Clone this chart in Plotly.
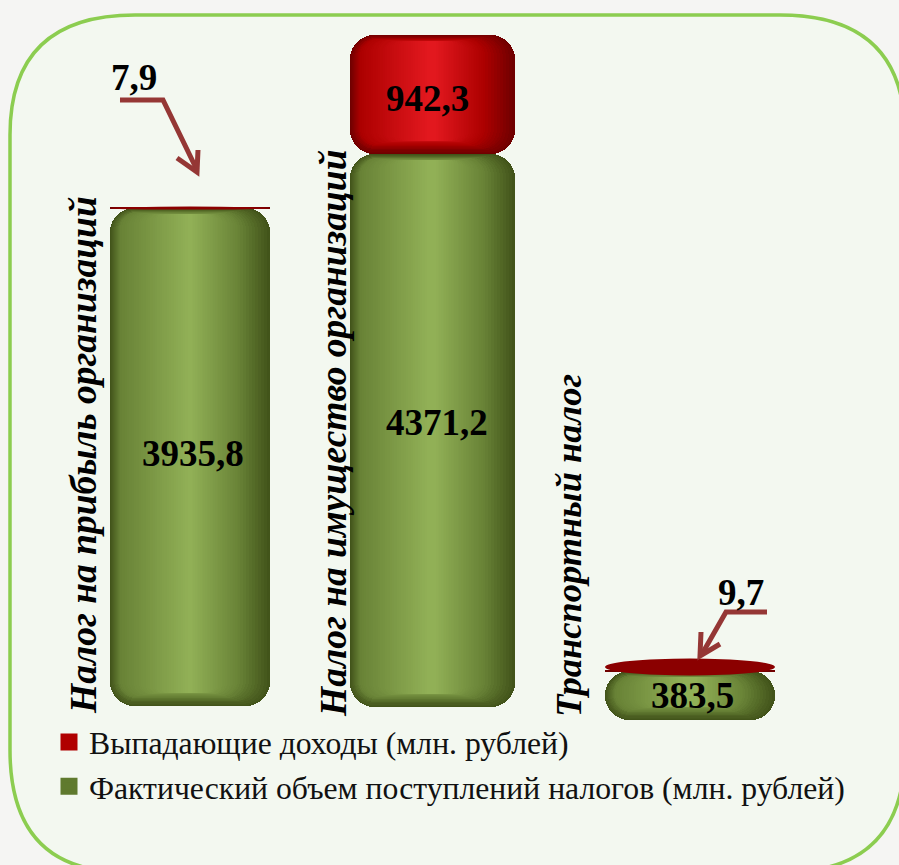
import plotly.graph_objects as go

categories = ["Налог на прибыль организаций", "Налог на имущество организаций", "Транспортный налог"]
actual_values = [3935.8, 4371.2, 383.5]
lost_values = [7.9, 942.3, 9.7]
actual_name = "Фактический объем поступлений налогов (млн. рублей)"
lost_name = "Выпадающие доходы (млн. рублей)"

W, H = 899, 865
SCALE = 0.1265         # pixels per value unit
ZERO_PX = 706
centres = [190, 432, 690]
widths = [160, 165, 170]
base_px = [0, -1, -14]
cap_down = [1.5, 0, 4]
cap_up = [1.5, 0, 13]
LAYERS = 40
FONT = "Liberation Serif"


def px_x(p):
    return p / W


def px_y(p):
    return 1 - p / H


def path(points):
    out = []
    for i, (x, y) in enumerate(points):
        out.append(("M" if i == 0 else "L") + f"{px_x(x):.5f},{px_y(y):.5f}")
    return " ".join(out)


def mix(a, b, t):
    return "rgb(" + ",".join(str(round(a[k] + (b[k] - a[k]) * t)) for k in range(3)) + ")"


GREEN = [(66, 84, 26), (104, 130, 54), (145, 176, 86)]
RED = [(112, 0, 0), (172, 0, 0), (226, 24, 30)]


def shade(stops, t):
    if t < 0.25:
        return mix(stops[0], stops[1], t / 0.25)
    return mix(stops[1], stops[2], (t - 0.25) / 0.75)


def insets(i):
    # lit from the left: a narrow dark rim on the left, a wider one on the right
    if i <= 10:
        return i * 1.0, i * 3.0
    return 10 + (i - 10) * 2.33, 30 + (i - 10) * 1.67


base0 = [p / SCALE for p in base_px]
fig = go.Figure()


def add_series(values, bases, stops, name, legendrank, legend_colour):
    for i in range(LAYERS):
        t = i / (LAYERS - 1)
        left, right = insets(i)
        bottom = 13 * (1 - (1 - t) ** 4)
        top = 6 * (1 - (1 - t) ** 4)
        heights = [max(v * SCALE - bottom - top, 0) / SCALE for v in values]
        heights = [h if h > 0 or i == 0 else None for h in heights]
        b = [bb + bottom / SCALE for bb in bases]
        w = [max(wd - left - right, 1) for wd in widths]
        x = [c + (left - right) / 2 for c in centres]
        fig.add_trace(go.Bar(
            x=x, y=heights, base=b, width=w, name=name,
            marker=dict(color=shade(stops, t), cornerradius=max(24 - i * 0.7, 0), line=dict(width=0)),
            showlegend=False, legendgroup=name, hoverinfo="skip"))
    # legend swatch only: carries no drawn values
    fig.add_trace(go.Bar(
        x=centres, y=[None] * len(centres), name=name,
        marker=dict(color=legend_colour, cornerradius=0, line=dict(width=5, color=legend_colour)),
        showlegend=True, legendgroup=name, legendrank=legendrank, hoverinfo="skip"))


add_series(actual_values, base0, GREEN, actual_name, 2, "#5f7a2e")
lost_base = [a + b for a, b in zip(actual_values, base0)]
add_series(lost_values, lost_base, RED, lost_name, 1, "#b00000")

panel = ("M10,135 Q10,15 135,15 L780,15 Q905,15 905,135 L905,750 Q905,872 785,872 "
         "L125,872 Q10,872 10,750 Z")


def convert_panel():
    res = []
    for tok in panel.split():
        if tok == "Z":
            res.append(tok)
            continue
        cmd = tok[0] if tok[0].isalpha() else ""
        x, y = tok.lstrip("MLQ").split(",")
        res.append(f"{cmd}{px_x(float(x)):.5f},{px_y(float(y)):.5f}")
    return " ".join(res)


shapes = [dict(type="path", xref="paper", yref="paper", path=convert_panel(), layer="below",
               fillcolor="#f3f8f0", line=dict(color="#8ccd50", width=3.5))]

# flat elliptical caps for the very thin upper segments
for c, w, a, b, d, u in zip(centres, widths, actual_values, base0, cap_down, cap_up):
    if d or u:
        top_v = a + b
        shapes.append(dict(type="circle", xref="x", yref="y", x0=c - w / 2, x1=c + w / 2,
                           y0=top_v - d / SCALE, y1=top_v + u / SCALE,
                           fillcolor="#8b0000", line=dict(width=0)))

ARROW = dict(color="#953735", width=5)
for pts in ([(120, 100), (163, 100), (197, 170)], [(177, 158), (197, 172), (198, 150)],
            [(767, 612), (726, 612), (702, 654)], [(701, 632), (700, 656), (720, 644)]):
    shapes.append(dict(type="path", xref="paper", yref="paper", path=path(pts), line=ARROW))

annotations = []


def note(text, x, y, size, angle=0, bold=True, italic=False):
    t = f"<b>{text}</b>" if bold else text
    t = f"<i>{t}</i>" if italic else t
    annotations.append(dict(text=t, x=px_x(x), y=px_y(y), xref="paper", yref="paper",
                            showarrow=False, textangle=angle, xanchor="center", yanchor="middle",
                            font=dict(family=FONT, size=size, color="black")))


def fmt(v):
    return f"{v:.1f}".replace(".", ",")


note(fmt(actual_values[0]), 193, 454, 37)
note(fmt(actual_values[1]), 437, 423, 37)
note(fmt(lost_values[1]), 427, 98, 37)
note(fmt(actual_values[2]), 692, 695, 37)
note(fmt(lost_values[0]), 134, 78, 37)
note(fmt(lost_values[2]), 741, 592, 37)
note(categories[0], 83, 455, 37.5, -90, True, True)
note(categories[1], 333, 433, 37.5, -90, True, True)
note(categories[2], 568, 546, 36.5, -90, True, True)

fig.update_layout(
    width=W, height=H, margin=dict(l=0, r=0, t=0, b=0), autosize=False,
    barmode="overlay", bargap=0,
    paper_bgcolor="#f5f5f3", plot_bgcolor="rgba(0,0,0,0)",
    xaxis=dict(range=[0, W], visible=False, fixedrange=True),
    yaxis=dict(range=[-(H - ZERO_PX) / SCALE, ZERO_PX / SCALE], visible=False, fixedrange=True),
    shapes=shapes, annotations=annotations,
    legend=dict(x=px_x(49), y=px_y(715), xanchor="left", yanchor="top",
                bgcolor="rgba(0,0,0,0)", font=dict(family=FONT, size=31.7, color="#111"),
                traceorder="normal", tracegroupgap=10),
)
fig.write_html("out.html", post_script="document.body.style.margin='0';",
               config=dict(displayModeBar=False))
